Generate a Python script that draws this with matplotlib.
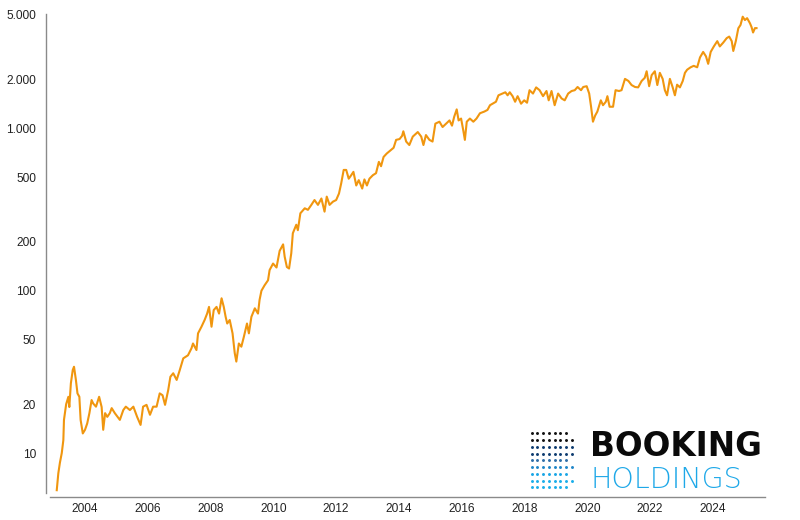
"""
Booking Holdings share price since 2003, log scale, with logo bottom right
"""
import matplotlib
matplotlib.use("Agg")
import matplotlib.pyplot as plt
from matplotlib.ticker import FixedLocator, FuncFormatter, NullLocator

# price (fractional year, price)
years = [
    2003.10, 2003.15, 2003.20, 2003.26, 2003.31, 2003.33, 2003.40, 2003.47, 2003.50, 2003.55,
    2003.61, 2003.65, 2003.71, 2003.76, 2003.82, 2003.86, 2003.93, 2004.00, 2004.07, 2004.14,
    2004.21, 2004.26, 2004.35, 2004.45, 2004.53, 2004.58, 2004.64, 2004.71, 2004.79, 2004.85,
    2004.95, 2005.11, 2005.22, 2005.30, 2005.43, 2005.54, 2005.66, 2005.77, 2005.85, 2005.96,
    2006.07, 2006.17, 2006.28, 2006.38, 2006.47, 2006.55, 2006.65, 2006.72, 2006.81, 2006.92,
    2007.02, 2007.13, 2007.28, 2007.39, 2007.44, 2007.55, 2007.60, 2007.71, 2007.81, 2007.89,
    2007.95, 2008.03, 2008.10, 2008.19, 2008.27, 2008.35, 2008.42, 2008.48, 2008.53, 2008.61,
    2008.70, 2008.77, 2008.82, 2008.90, 2008.98, 2009.06, 2009.16, 2009.22, 2009.30, 2009.41,
    2009.51, 2009.56, 2009.62, 2009.72, 2009.83, 2009.88, 2009.99, 2010.10, 2010.20, 2010.31,
    2010.36, 2010.43, 2010.50, 2010.57, 2010.62, 2010.73, 2010.78, 2010.86, 2011.00, 2011.10,
    2011.21, 2011.31, 2011.42, 2011.53, 2011.63, 2011.70, 2011.79, 2011.90, 2012.00, 2012.09,
    2012.16, 2012.24, 2012.32, 2012.40, 2012.48, 2012.55, 2012.64, 2012.72, 2012.83, 2012.90,
    2012.98, 2013.06, 2013.17, 2013.27, 2013.36, 2013.43, 2013.51, 2013.61, 2013.72, 2013.83,
    2013.91, 2014.02, 2014.10, 2014.14, 2014.23, 2014.33, 2014.44, 2014.60, 2014.71, 2014.78,
    2014.86, 2014.97, 2015.07, 2015.16, 2015.29, 2015.39, 2015.50, 2015.61, 2015.69, 2015.76,
    2015.84, 2015.90, 2015.98, 2016.05, 2016.10, 2016.16, 2016.26, 2016.37, 2016.47, 2016.58,
    2016.72, 2016.82, 2016.90, 2016.98, 2017.09, 2017.17, 2017.30, 2017.39, 2017.46, 2017.53,
    2017.62, 2017.70, 2017.78, 2017.89, 2017.99, 2018.08, 2018.16, 2018.27, 2018.37, 2018.48,
    2018.59, 2018.70, 2018.77, 2018.86, 2018.96, 2019.07, 2019.18, 2019.28, 2019.39, 2019.50,
    2019.60, 2019.69, 2019.80, 2019.87, 2019.98, 2020.06, 2020.12, 2020.18, 2020.25, 2020.32,
    2020.43, 2020.50, 2020.59, 2020.64, 2020.71, 2020.82, 2020.90, 2021.01, 2021.09, 2021.20,
    2021.31, 2021.41, 2021.52, 2021.62, 2021.73, 2021.83, 2021.89, 2021.97, 2022.05, 2022.15,
    2022.23, 2022.31, 2022.40, 2022.47, 2022.54, 2022.63, 2022.72, 2022.79, 2022.86, 2022.95,
    2023.04, 2023.11, 2023.18, 2023.29, 2023.39, 2023.50, 2023.59, 2023.69, 2023.78, 2023.85,
    2023.93, 2024.03, 2024.14, 2024.22, 2024.33, 2024.44, 2024.52, 2024.60, 2024.65, 2024.73,
    2024.81, 2024.88, 2024.95, 2025.02, 2025.09, 2025.18, 2025.23, 2025.28, 2025.34, 2025.39,
]
prices = [
    5.9, 7.5, 8.7, 10, 12, 16, 20, 22.2, 19.2, 26.9,
    32.5, 34, 28.2, 23.3, 22.2, 16, 13.2, 13.9, 15.2, 17.6,
    21.2, 20.2, 19.3, 22.2, 19.2, 13.9, 17.6, 16.7, 17.6, 18.9,
    17.6, 16, 18.4, 19.3, 18.4, 19.3, 16.7, 14.9, 19.3, 19.8,
    17.2, 19.3, 19.3, 23.3, 22.7, 19.8, 24.4, 29.5, 31, 28.2,
    32.5, 38.3, 40, 44.1, 47.3, 43.1, 54.6, 60, 66, 72.3,
    79.5, 60, 76, 79.5, 72.3, 89.8, 79.5, 69, 62.8, 66,
    54.6, 41.2, 36.6, 47.3, 45.2, 52, 62.8, 54.6, 69, 77.9,
    72.3, 87.7, 100, 108, 116, 134, 147, 139, 176, 193,
    162, 140, 137, 170, 226, 255, 236, 300, 322, 315,
    338, 362, 338, 370, 307, 380, 338, 354, 362, 397,
    458, 555, 555, 490, 515, 540, 445, 480, 426, 485,
    445, 490, 515, 530, 622, 585, 667, 700, 730, 760,
    850, 860, 900, 960, 830, 790, 890, 950, 890, 790,
    910, 850, 830, 1070, 1100, 1020, 1070, 1120, 1040, 1180,
    1310, 1120, 1150, 970, 850, 1100, 1150, 1100, 1150, 1240,
    1270, 1300, 1390, 1420, 1460, 1600, 1640, 1670, 1600, 1670,
    1580, 1460, 1580, 1420, 1490, 1440, 1720, 1640, 1790, 1720,
    1580, 1700, 1490, 1700, 1390, 1640, 1530, 1490, 1640, 1700,
    1720, 1800, 1720, 1800, 1820, 1640, 1360, 1100, 1200, 1270,
    1490, 1390, 1460, 1580, 1360, 1360, 1720, 1700, 1720, 2020,
    1960, 1850, 1800, 1790, 1960, 2050, 2250, 1820, 2130, 2250,
    1850, 2200, 2020, 1720, 1600, 2020, 1790, 1600, 1860, 1790,
    1960, 2200, 2300, 2380, 2430, 2380, 2740, 2960, 2780, 2500,
    2960, 3200, 3450, 3200, 3380, 3600, 3680, 3450, 3000, 3450,
    4140, 4340, 4880, 4650, 4780, 4450, 4220, 3900, 4150, 4150,
]

y_ticks = [10, 20, 50, 100, 200, 500, 1000, 2000, 5000]
x_ticks = [2004, 2006, 2008, 2010, 2012, 2014, 2016, 2018, 2020, 2022, 2024]

# logo dot grid: dots per row, top to bottom, and row colours
dot_rows = [7, 8, 8, 8, 7, 8, 7, 8, 7]
dot_colors = ["#111111", "#111111", "#0d3b70", "#0d3b70", "#2f6ea8",
              "#1f86c8", "#1aa6e6", "#1aaeea", "#1aaeea"]

LINE_COLOR = "#f0960f"
SPINE_COLOR = "#8a8a8a"
TEXT_COLOR = "#222222"


def thousands(v, pos):
    return f"{int(round(v)):,}".replace(",", ".")


def draw_logo(fig):
    # axes in pixel units (y counted from the top of the figure)
    lx0, lx1, ly0, ly1 = 525, 780, 426, 494
    lax = fig.add_axes([lx0 / 800, 1 - ly1 / 520, (lx1 - lx0) / 800, (ly1 - ly0) / 520])
    lax.set_xlim(lx0, lx1)
    lax.set_ylim(ly1, ly0)
    lax.axis("off")

    for j, (n, c) in enumerate(zip(dot_rows, dot_colors)):
        xs = [531.7 + 5.7 * i for i in range(n)]
        ys = [433.3 + 6.75 * j] * n
        lax.scatter(xs, ys, s=4.5, marker="o", color=c, linewidths=0)

    lax.text(590, 455.5, "BOOKING", fontsize=23.5, fontweight="bold",
             family="DejaVu Sans", color="#0a0a0a", va="baseline", ha="left")
    lax.text(591, 488.5, "HOLDINGS", fontsize=20.5, fontweight="light",
             family=["DejaVu Sans"], color="#1ea8e8", va="baseline", ha="left")


def main():
    plt.rcParams["font.family"] = ["Liberation Sans", "DejaVu Sans"]
    fig = plt.figure(figsize=(8, 5.2), dpi=100)
    ax = fig.add_axes([50 / 800, 1 - 493 / 520, 715 / 800, 479 / 520])

    ax.plot(years, prices, color=LINE_COLOR, lw=1.5, solid_joinstyle="round")

    ax.set_yscale("log")
    ax.set_ylim(5.67, 5070)
    ax.set_xlim(2002.885, 2025.66)

    ax.yaxis.set_major_locator(FixedLocator(y_ticks))
    ax.yaxis.set_minor_locator(NullLocator())
    ax.yaxis.set_major_formatter(FuncFormatter(thousands))
    ax.xaxis.set_major_locator(FixedLocator(x_ticks))
    ax.xaxis.set_major_formatter(FuncFormatter(lambda v, p: str(int(v))))

    ax.tick_params(axis="both", length=0, labelsize=8.6, colors=TEXT_COLOR)
    ax.tick_params(axis="y", pad=7)
    ax.tick_params(axis="x", pad=4)

    for side in ("top", "right"):
        ax.spines[side].set_visible(False)
    for side in ("left", "bottom"):
        ax.spines[side].set_color(SPINE_COLOR)
        ax.spines[side].set_linewidth(1)
        ax.spines[side].set_position(("outward", 3))

    draw_logo(fig)
    fig.savefig("out.png", dpi=100)


if __name__ == '__main__':
    main()
